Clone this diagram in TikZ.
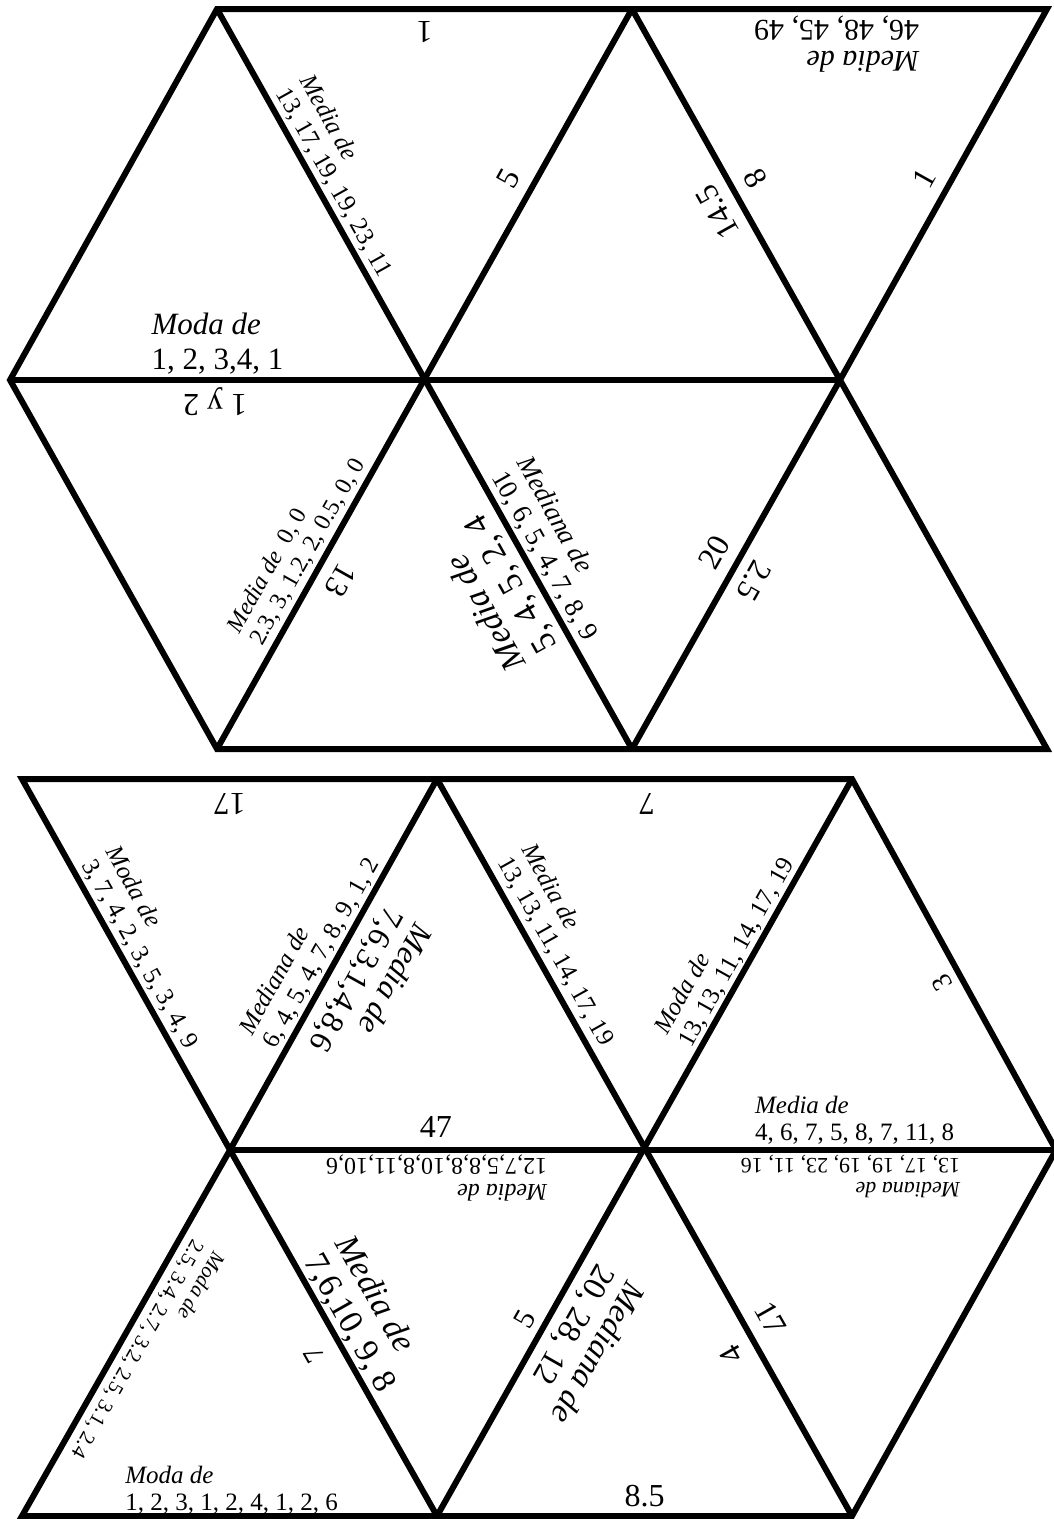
\documentclass[tikz,border=0pt]{standalone}
\usepackage{fontspec}
\setmainfont{Liberation Serif}

\begin{document}
\begin{tikzpicture}[x=1pt,y=1pt,
    edge/.style={line width=6pt, line join=miter},
    lbl/.style={sloped, allow upside down, inner sep=0pt, align=left},
    sz/.style 2 args={font=\fontsize{#1}{#2}\selectfont},
    ans/.style={lbl, sz={32}{34}}]
    \useasboundingbox (0,0) rectangle (1054,-1519);

    % upper sheet
    \coordinate (A1) at (217,-9);
    \coordinate (A2) at (632,-9);
    \coordinate (A3) at (1047,-9);
    \coordinate (B0) at (10,-380);
    \coordinate (B1) at (425,-380);
    \coordinate (B2) at (840,-380);
    \coordinate (C1) at (217,-749);
    \coordinate (C2) at (632,-749);
    \coordinate (C3) at (1047,-749);

    \draw[edge] (A1) -- (A3) -- (B2) -- (C3) -- (C1) -- (B0) -- cycle;
    \draw[edge] (B0) -- (B2);
    \draw[edge] (A1) -- (C2);
    \draw[edge] (C1) -- (A2);
    \draw[edge] (A2) -- (B2);
    \draw[edge] (C2) -- (B2);

    \path (B0) -- (B1) node[lbl, pos=.5, above=6pt, sz={31}{35}] (t1a) {\textit{Moda de}\\1, 2, 3,4, 1};
    \path (A1) -- (B1) node[lbl, pos=.49, above=6pt, sz={25}{27}] (t2a) {\textit{Media de}\\13, 17, 19, 19, 23, 11};
    \path (A2) -- (A1) node[ans, pos=.5, above=12pt] (t2b) {1};
    \path (B1) -- (A2) node[ans, pos=.51, above=15pt] (t2c) {5};
    \path (B2) -- (A2) node[ans, pos=.485, above=14pt] (t3a) {14.5};
    \path (A2) -- (B2) node[ans, pos=.49, above=14pt] (t4a) {8};
    \path (B2) -- (A3) node[ans, pos=.51, above=14pt] (t4b) {1};
    \path (A3) -- (A2) node[lbl, pos=.507, above=7pt, sz={30}{31}] (t4c) {\textit{Media de}\\46, 48, 45, 49};
    \path (B1) -- (B0) node[ans, pos=.506, above=7pt] (t5a) {1 y 2};
    \path (C1) -- (B1) node[lbl, pos=.51, above=7pt, sz={24}{26}] (t5b) {\textit{Media de}\enspace 0, 0\\2.3, 3, 1.2, 2, 0.5, 0, 0};
    \path (B1) -- (C1) node[ans, pos=.51, above=14pt] (t6a) {13};
    \path (C2) -- (B1) node[lbl, pos=.48, above=9pt, sz={34}{36}] (t6b) {\textit{Media de}\\5, 4, 5, 2, 4};
    \path (B1) -- (C2) node[lbl, pos=.5, above=6pt, sz={27}{29}] (t7a) {\textit{Mediana de}\\10, 6, 5, 4, 7, 8, 9};
    \path (C2) -- (B2) node[ans, pos=.5, above=14pt] (t7b) {20};
    \path (B2) -- (C2) node[ans, pos=.514, above=13pt] (t8a) {2.5};

    % lower sheet
    \coordinate (D0) at (22,-779);
    \coordinate (D1) at (437,-779);
    \coordinate (D2) at (852,-779);
    \coordinate (E1) at (230,-1150);
    \coordinate (E2) at (645,-1150);
    \coordinate (E3) at (1056,-1150);
    \coordinate (F0) at (22,-1516);
    \coordinate (F1) at (437,-1516);
    \coordinate (F2) at (852,-1516);

    \draw[edge] (D0) -- (D2) -- (E3) -- (F2) -- (F0) -- (E1) -- cycle;
    \draw[edge] (E1) -- (E3);
    \draw[edge] (E1) -- (F1);
    \draw[edge] (E1) -- (D1);
    \draw[edge] (D1) -- (F2);
    \draw[edge] (F1) -- (D2);

    \path (D1) -- (D0) node[ans, pos=.5, above=14pt] (u1a) {17};
    \path (D0) -- (E1) node[lbl, pos=.495, above=6pt, sz={25}{27}] (u1b) {\textit{Moda de}\\3, 7, 4, 2, 3, 5, 3, 4, 9};
    \path (E1) -- (D1) node[lbl, pos=.51, above=5pt, sz={25}{27}] (u1c) {\textit{Mediana de}\\6, 4, 5, 4, 7, 8, 9, 1, 2};
    \path (D1) -- (E1) node[lbl, pos=.506, above=12pt, sz={32}{34}] (u2a) {\textit{Media de}\\7,6,3,1,4,8,6};
    \path (E1) -- (E2) node[ans, pos=.496, above=12pt] (u2b) {47};
    \path (D2) -- (D1) node[ans, pos=.494, above=14pt] (u3a) {7};
    \path (D1) -- (E2) node[lbl, pos=.49, above=8pt, sz={25}{27}] (u3b) {\textit{Media de}\\13, 13, 11, 14, 17, 19};
    \path (E2) -- (D2) node[lbl, pos=.51, above=5pt, sz={25}{27}] (u3c) {\textit{Moda de}\\13, 13, 11, 14, 17, 19};
    \path (E3) -- (D2) node[lbl, pos=.476, above=10pt, sz={28}{30}] (u4a) {3};
    \path (E2) -- (E3) node[lbl, pos=.51, above=5pt, sz={25}{27}] (u4b) {\textit{Media de}\\4, 6, 7, 5, 8, 7, 11, 8};
    \path (E1) -- (F0) node[lbl, pos=.52, above=8pt, sz={21}{24}] (u5a) {\textit{Moda de}\\2.5, 3.4, 2.7, 3.2, 2.5, 3.1, 2.4};
    \path (F0) -- (F1) node[lbl, pos=.505, above=1pt, sz={25}{27}] (u5b) {\textit{Moda de}\\1, 2, 3, 1, 2, 4, 1, 2, 6};
    \path (F1) -- (E1) node[lbl, pos=.478, above=18pt, sz={28}{30}] (u5c) {7};
    \path (E2) -- (E1) node[lbl, pos=.502, above=5pt, sz={24}{26}] (u6a) {\textit{Media de}\\12,7,5,8,8,10,8,11,10,6};
    \path (E1) -- (F1) node[lbl, pos=.498, above=4pt, sz={34}{36}] (u6b) {\textit{Media de}\\7,6,10, 9, 8};
    \path (F1) -- (E2) node[lbl, pos=.51, above=11pt, sz={30}{32}] (u6c) {5};
    \path (E2) -- (F1) node[lbl, pos=.474, above=9pt, sz={33}{35}] (u7a) {\textit{Mediana de}\\20, 28, 12};
    \path (F1) -- (F2) node[ans, pos=.5, above=9pt] (u7b) {8.5};
    \path (F2) -- (E2) node[ans, pos=.475, above=15pt] (u7c) {4};
    \path (E2) -- (F2) node[ans, pos=.495, above=16pt] (u8a) {17};
    \path (E3) -- (E2) node[lbl, pos=.5, above=5pt, sz={22}{24}] (u8b) {\textit{Mediana de}\\13, 17, 19, 19, 23, 11, 16};
\end{tikzpicture}
\end{document}
